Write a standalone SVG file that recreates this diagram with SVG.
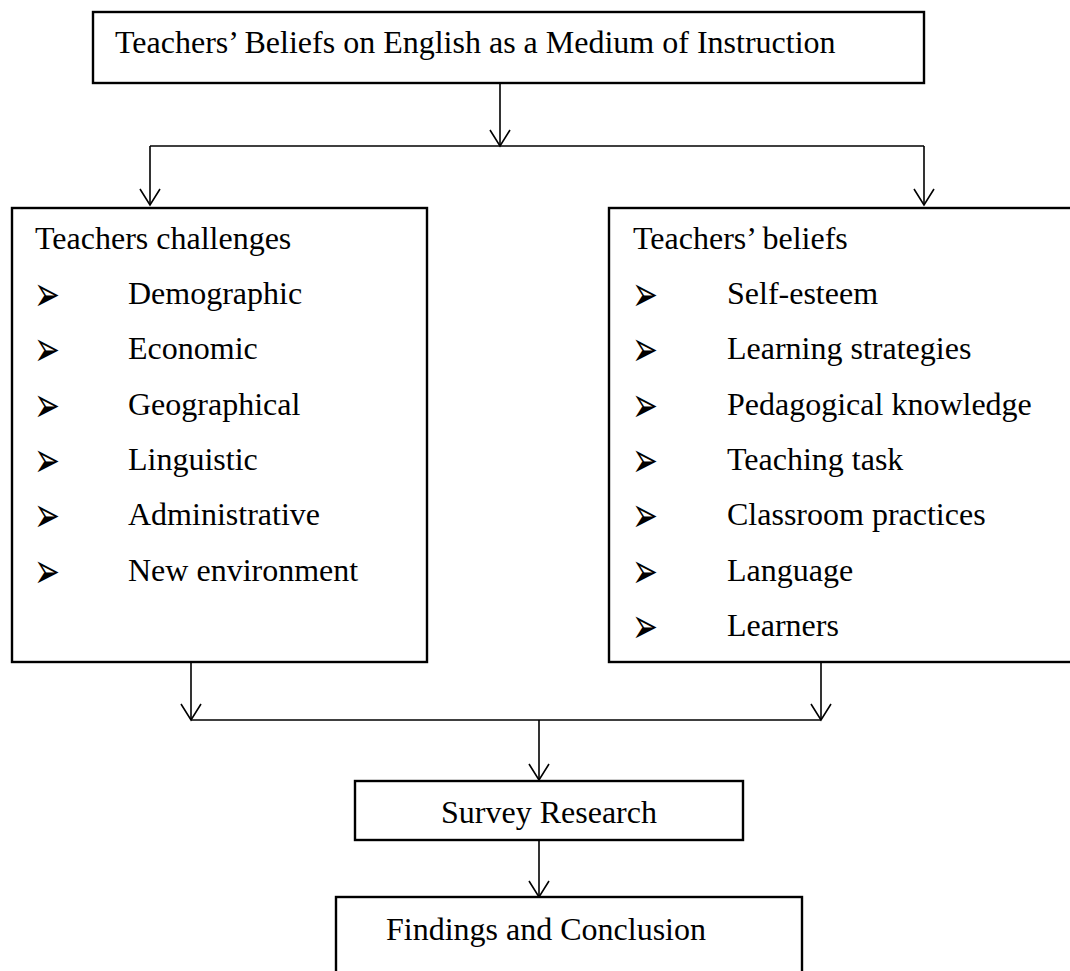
<svg xmlns="http://www.w3.org/2000/svg" width="1070" height="971" viewBox="0 0 1070 971">
  <style>
    .box { fill: #fff; stroke: #000; stroke-width: 2.4; }
    .lbl { font-family: "Liberation Serif", "Times New Roman", serif; font-size: 32px; fill: #000; }
    .mid { text-anchor: middle; }
    .bul { font-family: "DejaVu Sans", sans-serif; font-size: 31px; fill: #000; }
    .wire { fill: none; stroke: #000; stroke-width: 1.6; }
  </style>
  <defs>
    <marker id="vhead" markerUnits="userSpaceOnUse" viewBox="-18 -12 20 24" refX="0" refY="0" markerWidth="20" markerHeight="24" orient="auto" overflow="visible">
      <path d="M-16,-10 L0,0 L-16,10" fill="none" stroke="#000" stroke-width="1.6"/>
    </marker>
  </defs>
  <rect width="1070" height="971" fill="#fff"/>

  <!-- connectors -->
  <g id="connectors">
    <line class="wire" x1="500" y1="83" x2="500" y2="146" marker-end="url(#vhead)"/>
    <line class="wire" x1="150" y1="146" x2="924" y2="146"/>
    <line class="wire" x1="150" y1="146" x2="150" y2="205" marker-end="url(#vhead)"/>
    <line class="wire" x1="924" y1="146" x2="924" y2="205" marker-end="url(#vhead)"/>
    <line class="wire" x1="191" y1="662" x2="191" y2="720" marker-end="url(#vhead)"/>
    <line class="wire" x1="821" y1="662" x2="821" y2="720" marker-end="url(#vhead)"/>
    <line class="wire" x1="191" y1="720" x2="821" y2="720"/>
    <line class="wire" x1="539" y1="720" x2="539" y2="780" marker-end="url(#vhead)"/>
    <line class="wire" x1="539" y1="840" x2="539" y2="897" marker-end="url(#vhead)"/>
  </g>

  <!-- top node -->
  <g id="node-topic">
    <rect class="box" x="93" y="12" width="831" height="71"/>
    <text class="lbl" x="115" y="53">Teachers’ Beliefs on English as a Medium of Instruction</text>
  </g>

  <!-- left column -->
  <g id="node-challenges">
    <rect class="box" x="12" y="208" width="415" height="454"/>
    <text class="lbl" x="35" y="249">Teachers challenges</text>
    <g class="bul">
      <text transform="translate(34,311) scale(1,1.6)">➢</text>
      <text transform="translate(34,366) scale(1,1.6)">➢</text>
      <text transform="translate(34,422) scale(1,1.6)">➢</text>
      <text transform="translate(34,477) scale(1,1.6)">➢</text>
      <text transform="translate(34,532) scale(1,1.6)">➢</text>
      <text transform="translate(34,588) scale(1,1.6)">➢</text>
    </g>
    <text class="lbl" x="128" y="304">Demographic</text>
    <text class="lbl" x="128" y="359">Economic</text>
    <text class="lbl" x="128" y="415">Geographical</text>
    <text class="lbl" x="128" y="470">Linguistic</text>
    <text class="lbl" x="128" y="525">Administrative</text>
    <text class="lbl" x="128" y="581">New environment</text>
  </g>

  <!-- right column -->
  <g id="node-beliefs">
    <rect class="box" x="609" y="208" width="480" height="454"/>
    <text class="lbl" x="633" y="249">Teachers’ beliefs</text>
    <g class="bul">
      <text transform="translate(632,311) scale(1,1.6)">➢</text>
      <text transform="translate(632,366) scale(1,1.6)">➢</text>
      <text transform="translate(632,422) scale(1,1.6)">➢</text>
      <text transform="translate(632,477) scale(1,1.6)">➢</text>
      <text transform="translate(632,532) scale(1,1.6)">➢</text>
      <text transform="translate(632,588) scale(1,1.6)">➢</text>
      <text transform="translate(632,643) scale(1,1.6)">➢</text>
    </g>
    <text class="lbl" x="727" y="304">Self-esteem</text>
    <text class="lbl" x="727" y="359">Learning strategies</text>
    <text class="lbl" x="727" y="415">Pedagogical knowledge</text>
    <text class="lbl" x="727" y="470">Teaching task</text>
    <text class="lbl" x="727" y="525">Classroom practices</text>
    <text class="lbl" x="727" y="581">Language</text>
    <text class="lbl" x="727" y="636">Learners</text>
  </g>

  <!-- method -->
  <g id="node-survey">
    <rect class="box" x="355" y="781" width="388" height="59"/>
    <text class="lbl mid" x="549" y="823">Survey Research</text>
  </g>

  <!-- outcome -->
  <g id="node-findings">
    <rect class="box" x="336" y="897" width="466" height="100"/>
    <text class="lbl mid" x="546" y="940">Findings and Conclusion</text>
  </g>
</svg>
